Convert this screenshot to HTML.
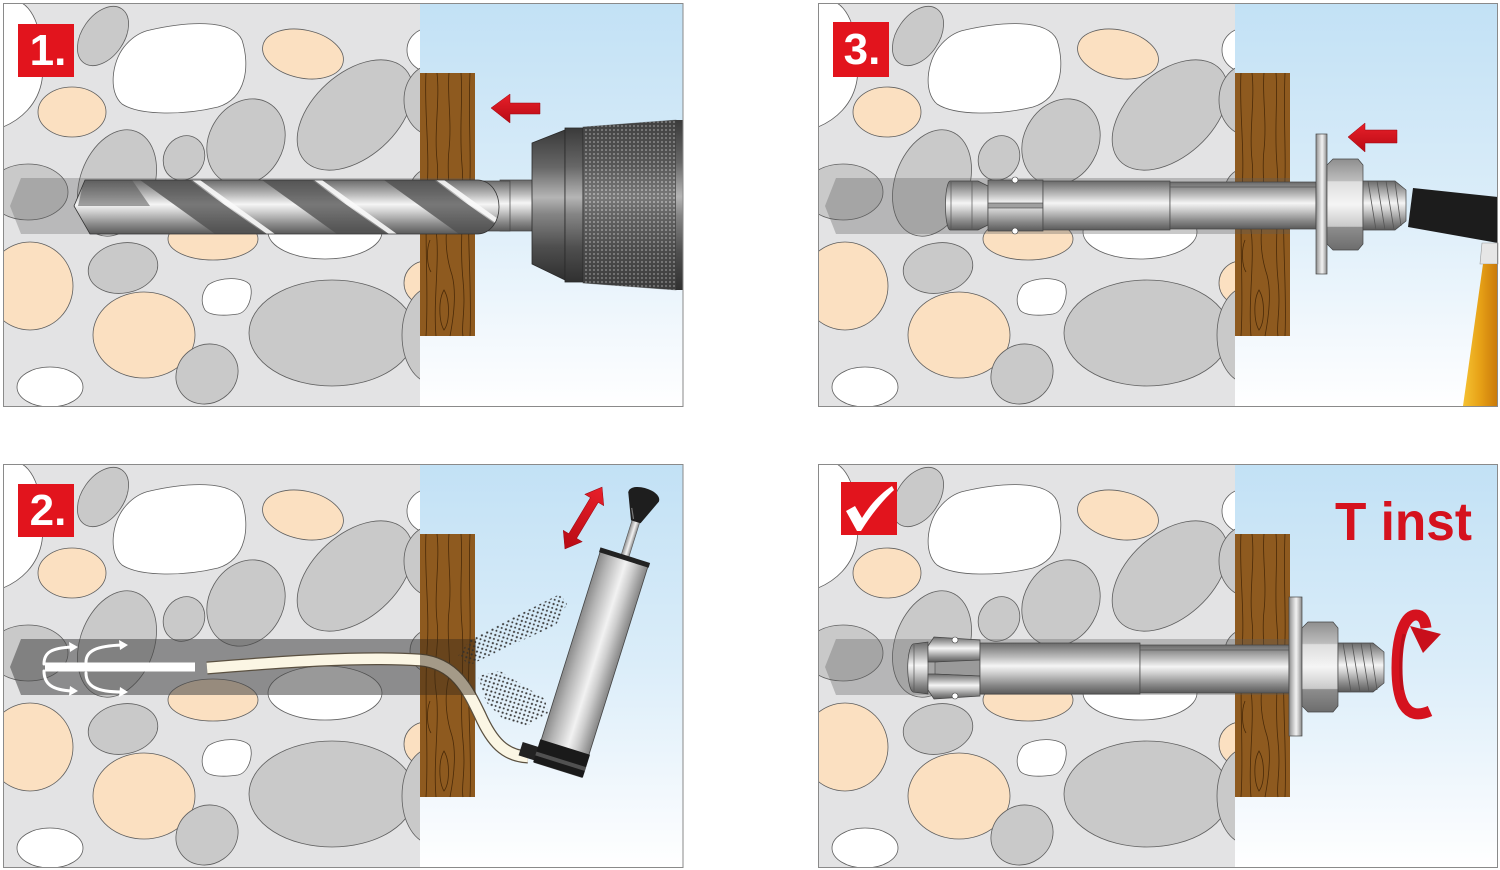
<!DOCTYPE html>
<html><head><meta charset="utf-8"><style>html,body{margin:0;padding:0;background:#fff;width:1500px;height:870px;overflow:hidden}svg{display:block}</style></head>
<body>
<svg width="1500" height="870" viewBox="0 0 1500 870" xmlns="http://www.w3.org/2000/svg" xmlns:xlink="http://www.w3.org/1999/xlink">
<defs>
 <linearGradient id="sky" x1="0" y1="0" x2="0" y2="1">
  <stop offset="0" stop-color="#c2e1f5"/><stop offset="0.5" stop-color="#dbedf9"/><stop offset="0.9" stop-color="#f8fbfe"/><stop offset="1" stop-color="#ffffff"/>
 </linearGradient>
 <linearGradient id="metH" x1="0" y1="0" x2="0" y2="1">
  <stop offset="0" stop-color="#6a6a6a"/><stop offset="0.28" stop-color="#bdbdbd"/><stop offset="0.45" stop-color="#f5f5f5"/><stop offset="0.58" stop-color="#d2d2d2"/><stop offset="0.82" stop-color="#8a8a8a"/><stop offset="1" stop-color="#5a5a5a"/>
 </linearGradient>
 <linearGradient id="metX" x1="0" y1="0" x2="1" y2="0">
  <stop offset="0" stop-color="#8a8a8a"/><stop offset="0.2" stop-color="#b4b4b4"/><stop offset="0.55" stop-color="#f2f2f2"/><stop offset="0.72" stop-color="#cfcfcf"/><stop offset="1" stop-color="#858585"/>
 </linearGradient>
 <linearGradient id="chuckG" x1="0" y1="0" x2="0" y2="1">
  <stop offset="0" stop-color="#3a3a3a"/><stop offset="0.25" stop-color="#676767"/><stop offset="0.45" stop-color="#b5b5b5"/><stop offset="0.56" stop-color="#858585"/><stop offset="0.78" stop-color="#4e4e4e"/><stop offset="1" stop-color="#303030"/>
 </linearGradient>
 <linearGradient id="nutG" x1="0" y1="0" x2="0" y2="1">
  <stop offset="0" stop-color="#8f8f8f"/><stop offset="0.24" stop-color="#bdbdbd"/><stop offset="0.25" stop-color="#dedede"/><stop offset="0.5" stop-color="#f5f5f5"/><stop offset="0.74" stop-color="#c9c9c9"/><stop offset="0.75" stop-color="#8d8d8d"/><stop offset="1" stop-color="#6d6d6d"/>
 </linearGradient>
 <linearGradient id="yellow" x1="0" y1="0" x2="1" y2="0">
  <stop offset="0" stop-color="#f6c232"/><stop offset="0.5" stop-color="#e6a016"/><stop offset="1" stop-color="#c9780a"/>
 </linearGradient>
 <linearGradient id="redG" x1="0" y1="0" x2="0" y2="1">
  <stop offset="0" stop-color="#e8202a"/><stop offset="1" stop-color="#b80a14"/>
 </linearGradient>
 <pattern id="knurl" width="4" height="4" patternUnits="userSpaceOnUse">
  <rect width="4" height="4" fill="#474747"/><circle cx="2" cy="2" r="1.1" fill="#a8a8a8"/>
 </pattern>
 <pattern id="dust" width="6" height="6" patternUnits="userSpaceOnUse" patternTransform="rotate(-28)">
  <circle cx="1.2" cy="1.2" r="1.1" fill="#3a3a3a"/><circle cx="4.2" cy="4" r="1" fill="#3a3a3a"/>
 </pattern>
 <clipPath id="wallclip"><rect x="3" y="3" width="417" height="404"/></clipPath>
 <g id="stones">
  <g clip-path="url(#wallclip)" stroke="#5f5f5f" stroke-width="0.8">
   <rect x="3" y="3" width="418" height="404" fill="#e3e3e4" stroke="none"/>
   <path d="M3,3 L22,3 C40,14 46,55 42,80 C38,105 20,120 3,127 Z" fill="#fff"/>
   <path d="M150,30 C185,22 232,18 242,40 C250,65 247,98 218,107 C185,115 140,116 122,104 C108,92 112,62 124,47 C132,37 140,32 150,30Z" fill="#fff"/>
   <ellipse cx="325" cy="232" rx="57" ry="27" fill="#fff"/>
   <path d="M208,285 C220,276 245,277 250,285 C254,295 248,312 238,314 C225,316 210,316 205,310 C200,302 202,292 208,285Z" fill="#fff"/>
   <ellipse cx="50" cy="387" rx="33" ry="20" fill="#fff"/>
   <ellipse cx="430" cy="50" rx="23" ry="22" fill="#fff"/>
   <ellipse cx="303" cy="54" rx="41" ry="24" transform="rotate(12 303 54)" fill="#fbe0c1"/>
   <ellipse cx="72" cy="112" rx="34" ry="25" fill="#fbe0c1"/>
   <ellipse cx="213" cy="239" rx="45" ry="21" fill="#fbe0c1"/>
   <ellipse cx="30" cy="286" rx="43" ry="44" fill="#fbe0c1"/>
   <ellipse cx="144" cy="335" rx="51" ry="43" fill="#fbe0c1"/>
   <ellipse cx="426" cy="283" rx="22" ry="22" fill="#fbe0c1"/>
   <ellipse cx="103" cy="36" rx="21" ry="33" transform="rotate(35 103 36)" fill="#c9c9c9"/>
   <ellipse cx="355" cy="115" rx="42" ry="68" transform="rotate(48 355 115)" fill="#c9c9c9"/>
   <ellipse cx="28" cy="192" rx="40" ry="28" fill="#c9c9c9"/>
   <ellipse cx="117" cy="183" rx="37" ry="55" transform="rotate(20 117 183)" fill="#c9c9c9"/>
   <ellipse cx="184" cy="158" rx="20" ry="23" transform="rotate(30 184 158)" fill="#c9c9c9"/>
   <ellipse cx="246" cy="142" rx="37" ry="45" transform="rotate(30 246 142)" fill="#c9c9c9"/>
   <ellipse cx="123" cy="268" rx="35" ry="25" transform="rotate(-10 123 268)" fill="#c9c9c9"/>
   <ellipse cx="332" cy="333" rx="83" ry="53" fill="#c9c9c9"/>
   <ellipse cx="207" cy="374" rx="32" ry="29" transform="rotate(-35 207 374)" fill="#c9c9c9"/>
   <ellipse cx="432" cy="100" rx="28" ry="35" fill="#c9c9c9"/>
   <ellipse cx="432" cy="335" rx="30" ry="48" fill="#c9c9c9"/>
   <ellipse cx="432" cy="190" rx="22" ry="22" fill="#c9c9c9"/>
  </g>
 </g>
 <g id="wood">
  <rect x="420" y="73" width="55" height="263" fill="#8e5a1f"/>
  <g fill="none" stroke="#4a2a08" stroke-width="0.8">
   <path d="M426,73 C424,110 430,150 427,190 C424,240 429,290 426,336"/>
   <path d="M437,73 C440,100 434,130 437,160 C440,185 432,205 436,230 C440,260 433,300 436,336"/>
   <path d="M449,73 C447,95 452,120 449,150 C446,175 452,200 448,220 C444,240 447,260 452,275 C456,290 455,310 450,336"/>
   <path d="M461,73 C463,100 459,130 462,165 C465,200 459,240 463,280 C466,310 461,325 463,336"/>
   <path d="M470,73 C468,120 472,160 469,200 C467,240 472,290 470,336"/>
   <path d="M444,290 C438,300 439,322 444,330 C450,322 450,300 444,290 Z"/>
   <path d="M430,240 C426,250 427,266 431,272"/>
  </g>
 </g>
</defs>

<!-- ============ PANEL 1 ============ -->
<use xlink:href="#stones" href="#stones"/>
<rect x="420" y="3" width="263" height="403" fill="url(#sky)"/>
<use xlink:href="#wood" href="#wood"/>
<polygon points="10,206 21,178 475,178 475,234 21,234" fill="#5a5a5a" opacity="0.3"/>
<rect x="500" y="180" width="34" height="51" fill="url(#metH)" stroke="#444" stroke-width="0.7"/>
<polygon points="532,143 565,130 565,280 532,264" fill="url(#chuckG)" stroke="#2a2a2a" stroke-width="0.8"/>
<rect x="565" y="128" width="18" height="154" fill="url(#chuckG)" stroke="#2a2a2a" stroke-width="0.8"/>
<polygon points="583,127 676,120 676,290 583,283" fill="url(#knurl)"/>
<polygon points="583,127 676,120 676,290 583,283" fill="url(#chuckG)" opacity="0.45" stroke="#2a2a2a" stroke-width="0.8"/>
<rect x="676" y="120" width="7" height="170" fill="url(#chuckG)"/>
<rect x="470" y="181" width="40" height="50" fill="url(#metH)" stroke="#444" stroke-width="0.7"/>
<clipPath id="bitclip"><path d="M74,206 L85,180 L478,180 C506,182 506,232 478,234 L90,234 Z"/></clipPath>
<path d="M74,206 L85,180 L478,180 C506,182 506,232 478,234 L90,234 Z" fill="url(#metH)"/>
<g clip-path="url(#bitclip)">
 <polygon points="84,180 132,180 150,206 78,206" fill="#555" opacity="0.55"/>
 <polygon points="140,180 190,180 265,234 215,234" fill="#4d4d4d" opacity="0.75"/>
 <polygon points="192,180 200,180 275,234 267,234" fill="#fafafa" opacity="0.9"/>
 <polygon points="262,180 312,180 387,234 337,234" fill="#4d4d4d" opacity="0.75"/>
 <polygon points="314,180 322,180 397,234 389,234" fill="#fafafa" opacity="0.9"/>
 <polygon points="384,180 434,180 509,234 459,234" fill="#4d4d4d" opacity="0.75"/>
 <polygon points="436,180 444,180 519,234 511,234" fill="#fafafa" opacity="0.9"/>
</g>
<path d="M74,206 L85,180 L478,180 C506,182 506,232 478,234 L90,234 Z" fill="none" stroke="#333" stroke-width="0.8"/>
<polygon points="491,108 510,94 510,103 540,103 540,114 510,114 510,123" fill="url(#redG)" stroke="#9a0610" stroke-width="0.5"/>
<rect x="18" y="24" width="56" height="53" fill="#e2141d"/>
<text x="48" y="65" font-family="Liberation Sans, sans-serif" font-weight="bold" font-size="44" fill="#fff" text-anchor="middle">1.</text>
<rect x="3.5" y="3.5" width="679.5" height="403" fill="none" stroke="#8a8a8a" stroke-width="1"/>

<!-- ============ PANEL 3 ============ -->
<use xlink:href="#stones" href="#stones" transform="translate(815,0)"/>
<rect x="1235" y="3" width="263" height="403" fill="url(#sky)"/>
<use xlink:href="#wood" href="#wood" transform="translate(815,0)"/>
<polygon points="825,206 836,178 1290,178 1290,234 836,234" fill="#5a5a5a" opacity="0.33"/>
<path d="M950,181 L978,181 L988,186 L988,225 L978,230 L950,230 C944,228 944,183 950,181Z" fill="url(#metH)" stroke="#444" stroke-width="0.7"/>
<line x1="951" y1="182" x2="951" y2="229" stroke="#555" stroke-width="0.7"/>
<line x1="972" y1="181" x2="972" y2="230" stroke="#555" stroke-width="0.7"/>
<rect x="988" y="180" width="55" height="51" fill="url(#metH)" stroke="#444" stroke-width="0.7"/>
<rect x="988" y="203" width="55" height="5" fill="#a0a0a0" stroke="#444" stroke-width="0.6"/>
<circle cx="1015" cy="180" r="3" fill="#fff" stroke="#444" stroke-width="0.6"/>
<circle cx="1015" cy="231" r="3" fill="#fff" stroke="#444" stroke-width="0.6"/>
<rect x="1043" y="181" width="127" height="49" fill="url(#metH)" stroke="#444" stroke-width="0.7"/>
<rect x="1170" y="182" width="146" height="47" fill="url(#metH)" stroke="#444" stroke-width="0.7"/>
<line x1="1170" y1="187" x2="1316" y2="187" stroke="#555" stroke-width="0.7"/>
<rect x="1316" y="134" width="11" height="140" fill="url(#metX)" stroke="#444" stroke-width="0.7"/>
<path d="M1333,159 L1358,159 L1363,165 L1363,244 L1358,250 L1333,250 L1327,244 L1327,165 Z" fill="url(#nutG)" stroke="#444" stroke-width="0.7"/>
<path d="M1363,181 L1395,181 L1406,190 L1406,221 L1395,230 L1363,230 Z" fill="url(#metH)" stroke="#444" stroke-width="0.7"/>
<g stroke="#555" stroke-width="0.8">
 <line x1="1368" y1="181" x2="1376" y2="230"/><line x1="1377" y1="181" x2="1385" y2="230"/><line x1="1386" y1="181" x2="1394" y2="230"/><line x1="1395" y1="182" x2="1401" y2="226"/>
</g>
<polygon points="1348,137 1365,123 1365,130 1397,130 1397,143 1365,143 1365,152" fill="url(#redG)" stroke="#9a0610" stroke-width="0.5"/>
<polygon points="1413,188 1498,197 1498,243 1408,227" fill="#1c1c1c"/>
<polygon points="1482,243 1498,243 1498,264 1480,264" fill="#e6e6e6" stroke="#999" stroke-width="0.6"/>
<polygon points="1483,264 1498,264 1498,406 1463,406" fill="url(#yellow)"/>
<rect x="833" y="22" width="56" height="55" fill="#e2141d"/>
<text x="862" y="64" font-family="Liberation Sans, sans-serif" font-weight="bold" font-size="44" fill="#fff" text-anchor="middle">3.</text>
<rect x="818.5" y="3.5" width="679" height="403" fill="none" stroke="#8a8a8a" stroke-width="1"/>

<!-- ============ PANEL 2 ============ -->
<use xlink:href="#stones" href="#stones" transform="translate(0,461)"/>
<rect x="420" y="464" width="263" height="403" fill="url(#sky)"/>
<use xlink:href="#wood" href="#wood" transform="translate(0,461)"/>
<polygon points="10,667 21,639 420,639 420,695 21,695" fill="#464646" opacity="0.55"/>
<g fill="none" stroke="#fff" stroke-width="3" stroke-linecap="round">
 <line x1="45" y1="667" x2="195" y2="667" stroke-width="9" stroke-linecap="butt"/>
 <path d="M44,664 C44,652 52,648 72,647"/>
 <path d="M86,662 C86,651 96,646 122,645"/>
 <path d="M44,671 C44,684 52,690 72,691"/>
 <path d="M86,673 C86,686 96,692 122,692"/>
</g>
<g fill="#fff">
 <polygon points="78,647 69,642 70,652"/>
 <polygon points="128,645 119,640 120,650"/>
 <polygon points="78,691 70,686 69,696"/>
 <polygon points="128,692 120,687 119,697"/>
</g>
<polygon points="458,656 470,640 520,614 560,594 567,604 556,625 510,646 470,665" fill="url(#dust)"/>
<polygon points="478,676 500,671 545,699 548,713 527,726 505,721 486,702" fill="url(#dust)"/>
<path d="M207,668 C280,662 360,656 420,660 C455,663 468,690 480,715 C492,742 505,756 528,757" fill="none" stroke="#5a5040" stroke-width="13"/>
<path d="M207,668 C280,662 360,656 420,660 C455,663 468,690 480,715 C492,742 505,756 528,757" fill="none" stroke="#fbf6e4" stroke-width="10.5"/>
<rect x="420" y="639" width="56" height="56" fill="#3a2a18" opacity="0.45"/>
<g transform="translate(591.5,663) rotate(17.4)">
 <rect x="-4" y="-150" width="8" height="40" fill="url(#metX)" stroke="#555" stroke-width="0.6"/>
 <path d="M-5,-148 L5,-148 L16,-174 C17,-186 -17,-186 -16,-174 Z" fill="#1e1e1e"/>
 <path d="M-8,-160 L-3,-150" stroke="#777" stroke-width="1.2"/>
 <rect x="-25" y="-112" width="50" height="224" fill="url(#metX)" stroke="#444" stroke-width="0.8"/>
 <rect x="-26" y="-113" width="52" height="5" fill="#222"/>
 <rect x="-42" y="96" width="17" height="14" fill="#222"/>
 <rect x="-26" y="88" width="52" height="24" fill="#1a1a1a"/>
 <rect x="-26" y="101" width="52" height="4" fill="#777" opacity="0.6"/>
</g>
<g transform="translate(583.5,518) rotate(31)">
 <polygon points="0,-36 11,-21 4.5,-21 4.5,21 11,21 0,36 -11,21 -4.5,21 -4.5,-21 -11,-21" fill="url(#redG)" stroke="#9a0610" stroke-width="0.5"/>
</g>
<rect x="18" y="484" width="56" height="53" fill="#e2141d"/>
<text x="48" y="525" font-family="Liberation Sans, sans-serif" font-weight="bold" font-size="44" fill="#fff" text-anchor="middle">2.</text>
<rect x="3.5" y="464.5" width="679.5" height="403" fill="none" stroke="#8a8a8a" stroke-width="1"/>

<!-- ============ PANEL 4 ============ -->
<use xlink:href="#stones" href="#stones" transform="translate(815,461)"/>
<rect x="1235" y="464" width="263" height="403" fill="url(#sky)"/>
<use xlink:href="#wood" href="#wood" transform="translate(815,461)"/>
<polygon points="825,667 836,639 1289,639 1289,695 836,695" fill="#5a5a5a" opacity="0.33"/>
<path d="M913,644 L928,642 L928,694 L913,692 C906,688 906,648 913,644Z" fill="url(#metH)" stroke="#444" stroke-width="0.7"/>
<line x1="914" y1="645" x2="914" y2="691" stroke="#555" stroke-width="0.7"/>
<polygon points="935,662 980,659 980,676 935,674" fill="#9a9a9a" stroke="#444" stroke-width="0.6"/>
<path d="M928,646 L934,637 L980,640 L980,660 L934,662 L928,662 Z" fill="url(#metH)" stroke="#444" stroke-width="0.7"/>
<path d="M928,674 L934,674 L980,676 L980,696 L934,699 L928,690 Z" fill="url(#metH)" stroke="#444" stroke-width="0.7"/>
<circle cx="955" cy="640" r="3" fill="#fff" stroke="#444" stroke-width="0.6"/>
<circle cx="955" cy="696" r="3" fill="#fff" stroke="#444" stroke-width="0.6"/>
<rect x="980" y="643" width="160" height="51" fill="url(#metH)" stroke="#444" stroke-width="0.7"/>
<rect x="1140" y="645" width="149" height="48" fill="url(#metH)" stroke="#444" stroke-width="0.7"/>
<line x1="1140" y1="650" x2="1289" y2="650" stroke="#555" stroke-width="0.7"/>
<rect x="1289" y="597" width="13" height="139" fill="url(#metX)" stroke="#444" stroke-width="0.7"/>
<path d="M1308,622 L1333,622 L1338,628 L1338,706 L1333,712 L1308,712 L1302,706 L1302,628 Z" fill="url(#nutG)" stroke="#444" stroke-width="0.7"/>
<path d="M1338,643 L1373,643 L1384,652 L1384,683 L1373,692 L1338,692 Z" fill="url(#metH)" stroke="#444" stroke-width="0.7"/>
<g stroke="#555" stroke-width="0.8">
 <line x1="1343" y1="643" x2="1351" y2="692"/><line x1="1352" y1="643" x2="1360" y2="692"/><line x1="1361" y1="643" x2="1369" y2="692"/><line x1="1370" y1="643" x2="1377" y2="690"/>
</g>
<path d="M1430,711 C1405,722 1397,700 1397,668 C1397,635 1405,615 1416,615 C1422,615 1425,620 1426,628" fill="none" stroke="#d5121e" stroke-width="11"/>
<path d="M1402,690 C1400,672 1400,650 1404,634" fill="none" stroke="#a50c16" stroke-width="3" opacity="0.6"/>
<polygon points="1410,626 1441,634 1423,653" fill="#c80f1b"/>
<text x="1335" y="540" font-family="Liberation Sans, sans-serif" font-weight="bold" font-size="54" fill="#d5121e" textLength="137" lengthAdjust="spacingAndGlyphs">T inst</text>
<rect x="841" y="482" width="56" height="53" fill="#e2141d"/>
<path d="M846,511 L855,506 L862,518 C870,505 880,494 892,486 L894,490 C882,501 871,515 861,531 L857,531 Z" fill="#fff"/>
<rect x="818.5" y="464.5" width="679" height="403" fill="none" stroke="#8a8a8a" stroke-width="1"/>
</svg>
</body></html>
